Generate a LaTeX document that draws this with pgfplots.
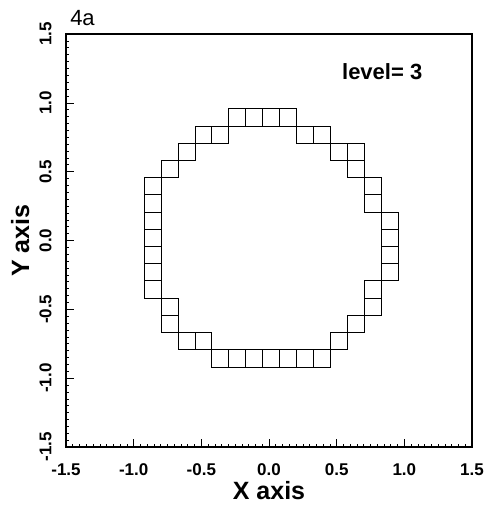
\documentclass[border=0pt]{standalone}
\usepackage{fontspec}
\setmainfont{Liberation Sans}
\usepackage{pgfplots}
\pgfplotsset{compat=1.18}
\begin{document}
\begin{tikzpicture}
\path[use as bounding box] (-66pt,-61pt) rectangle (424pt,447pt);
\begin{axis}[
  at={(0,0)}, anchor=south west,
  x=135.33pt, y=137.67pt,
  xmin=-1.5, xmax=1.5, ymin=-1.5, ymax=1.5,
  clip=false,
  axis line style={line width=1.1pt},
  tick pos=left, tick align=inside,
  xtick={-1.5,-1,-0.5,0,0.5,1,1.5},
  ytick={-1.5,-1,-0.5,0,0.5,1,1.5},
  xticklabels={-1.5,-1.0,-0.5,0.0,0.5,1.0,1.5},
  yticklabels={-1.5,-1.0,-0.5,0.0,0.5,1.0,1.5},
  minor tick num=9,
  major tick length=8pt, minor tick length=3pt,
  every tick/.style={black, line width=0.6pt},
  ticklabel style={font=\fontsize{17}{17}\selectfont\bfseries},
  xticklabel shift=13pt,
  yticklabel shift=11pt,
  yticklabel style={rotate=90, anchor=south},
  xlabel={X axis}, ylabel={Y axis},
  label style={font=\fontsize{25}{25}\selectfont\bfseries},
  xlabel style={at={(axis description cs:0.5,-0.1065)}, anchor=center},
  ylabel style={at={(axis description cs:-0.113,0.5)}, anchor=center},
]
\addplot[only marks, mark=square, mark size=8.458pt,
  mark options={line width=0.8pt, draw=black, fill=none, yscale=1.0173}]
  table[row sep=\\] {
x y\\
-0.235 0.894\\ -0.11 0.894\\ 0.015 0.894\\ 0.14 0.894\\
-0.485 0.769\\ -0.36 0.769\\ 0.265 0.769\\ 0.39 0.769\\
-0.61 0.644\\ 0.515 0.644\\ 0.64 0.644\\
-0.735 0.519\\ 0.64 0.519\\
-0.86 0.394\\ 0.765 0.394\\
-0.86 0.269\\ 0.765 0.269\\
-0.86 0.144\\ 0.89 0.144\\
-0.86 0.019\\ 0.89 0.019\\
-0.86 -0.106\\ 0.89 -0.106\\
-0.86 -0.231\\ 0.89 -0.231\\
-0.86 -0.356\\ 0.765 -0.356\\
-0.735 -0.481\\ 0.765 -0.481\\
-0.735 -0.606\\ 0.64 -0.606\\
-0.61 -0.731\\ -0.485 -0.731\\ 0.515 -0.731\\
-0.36 -0.856\\ -0.235 -0.856\\ -0.11 -0.856\\ 0.015 -0.856\\ 0.14 -0.856\\ 0.265 -0.856\\ 0.39 -0.856\\
};
\node[anchor=base west, inner sep=0pt, font=\fontsize{22}{22}\selectfont\bfseries]
  at (axis cs:0.539,1.166) {level= 3};
\node[anchor=base west, inner sep=0pt, font=\fontsize{22}{22}\selectfont]
  at (axis cs:-1.47,1.565) {4a};
\end{axis}
\end{tikzpicture}
\end{document}
